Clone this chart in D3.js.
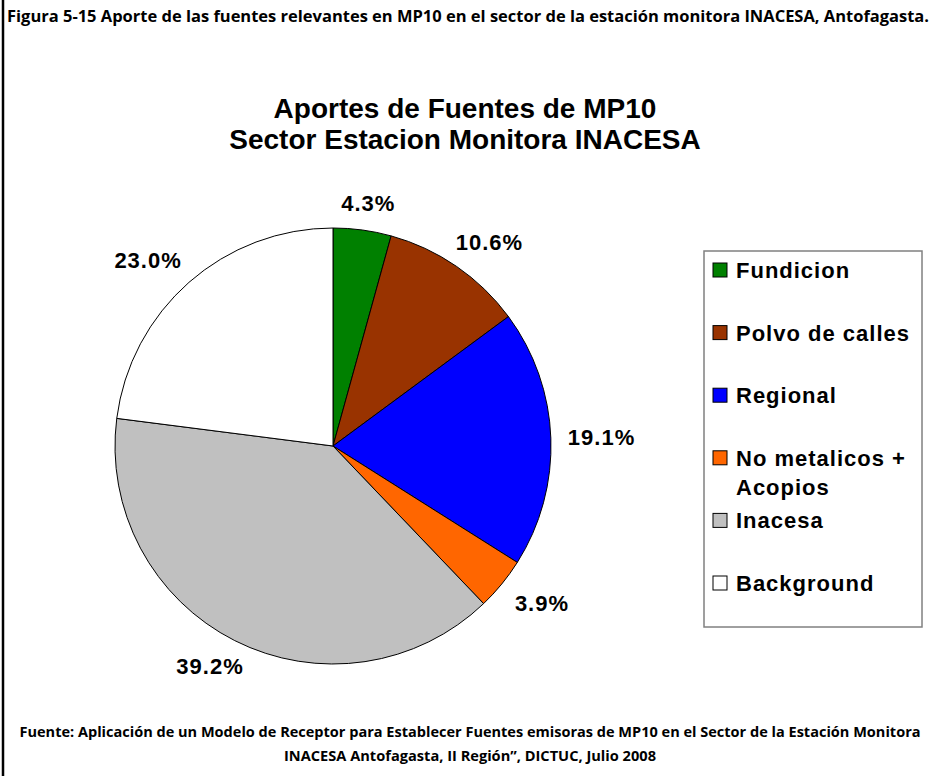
<!DOCTYPE html>
<html>
<head>
<meta charset="utf-8">
<script src="https://cdn.jsdelivr.net/npm/d3@7"></script>
<style>
  body { margin: 0; background: #fff; }
  svg { display: block; }
</style>
</head>
<body>
<div id="main"></div>
<script>
const WIDTH = 938, HEIGHT = 776;

// data
const categories = ["Fundicion", "Polvo de calles", "Regional", "No metalicos + Acopios", "Inacesa", "Background"];
const legendLines = [["Fundicion"], ["Polvo de calles"], ["Regional"], ["No metalicos +", "Acopios"], ["Inacesa"], ["Background"]];
const shares = [4.3, 10.6, 19.1, 3.9, 39.2, 23.0];
const colors = ["#008000", "#993300", "#0000ff", "#ff6600", "#c0c0c0", "#ffffff"];

const headerText = "Figura 5-15 Aporte de las fuentes relevantes en MP10 en el sector de la estación monitora INACESA, Antofagasta.";
const titleLines = ["Aportes de Fuentes de MP10", "Sector Estacion Monitora INACESA"];
const footerLines = [
    "Fuente: Aplicación de un Modelo de Receptor para Establecer Fuentes emisoras de MP10 en el Sector de la Estación Monitora",
    "INACESA Antofagasta, II Región\u201d, DICTUC, Julio 2008"
];

const svg = d3.select("#main").append("svg")
    .attr("width", WIDTH)
    .attr("height", HEIGHT);

// left frame line
svg.append("line")
    .attr("x1", 3).attr("x2", 3)
    .attr("y1", 0).attr("y2", HEIGHT)
    .attr("stroke", "#000").attr("stroke-width", 2.5);

const calibri = "'Open Sans', 'DejaVu Sans', sans-serif";
const arial = "'Liberation Sans', Arial, sans-serif";

svg.append("text")
    .attr("x", 7).attr("y", 22)
    .attr("textLength", 922).attr("lengthAdjust", "spacingAndGlyphs")
    .style("font-family", calibri).style("font-weight", "bold").style("font-size", "16px")
    .text(headerText);

// chart title
svg.selectAll("text.title")
    .data(titleLines)
    .enter().append("text")
    .attr("class", "title")
    .attr("x", 465)
    .attr("y", (d, i) => 118 + i * 31)
    .attr("text-anchor", "middle")
    .style("font-family", arial).style("font-weight", "bold").style("font-size", "28px")
    .text(d => d);

// pie
const cx = 333, cy = 446, R = 218;
const pie = d3.pie().sort(null).value(d => d);
const arcs = pie(shares);
const arc = d3.arc().innerRadius(0).outerRadius(R);

const pieG = svg.append("g").attr("transform", `translate(${cx},${cy})`);
pieG.selectAll("path")
    .data(arcs)
    .enter().append("path")
    .attr("d", arc)
    .attr("fill", (d, i) => colors[i])
    .attr("stroke", "#000")
    .attr("stroke-width", 1);

// labels outside the slices: anchor just off the rim, box pushed
// outwards so its nearest side/corner sits on the anchor (Excel style)
const labelFont = 22;
pieG.selectAll("text.pct")
    .data(arcs)
    .enter().append("text")
    .attr("class", "pct")
    .attr("text-anchor", "middle")
    .attr("dy", "0.36em")
    .style("font-family", arial).style("font-weight", "bold")
    .style("font-size", labelFont + "px").style("letter-spacing", "1px")
    .text(d => d.value.toFixed(1) + "%")
    .each(function(d) {
        const a = (d.startAngle + d.endAngle) / 2;
        const w = this.getComputedTextLength() / 2, h = 10;
        const s = Math.sin(a), c = Math.cos(a);
        const m = Math.max(Math.abs(s), Math.abs(c));
        const r0 = R + 17;
        d3.select(this)
            .attr("x", s * r0 + w * s / m)
            .attr("y", -c * r0 - h * c / m);
    });

// legend
const legend = svg.append("g").attr("transform", "translate(704,251)");
legend.append("rect")
    .attr("width", 218).attr("height", 376)
    .attr("fill", "#fff").attr("stroke", "#808080").attr("stroke-width", 1.5);

const rowY = d3.scalePoint().domain(categories).range([19, 332]);
const rows = legend.selectAll("g.row")
    .data(categories)
    .enter().append("g")
    .attr("class", "row")
    .attr("transform", d => `translate(0,${rowY(d)})`);

rows.append("rect")
    .attr("x", 9).attr("y", -7)
    .attr("width", 14).attr("height", 14)
    .attr("fill", (d, i) => colors[i])
    .attr("stroke", "#000").attr("stroke-width", 1);

rows.append("text")
    .attr("x", 32)
    .attr("y", 8)
    .style("font-family", arial).style("font-weight", "bold")
    .style("font-size", "22px").style("letter-spacing", "1px")
    .selectAll("tspan")
    .data((d, i) => legendLines[i])
    .enter().append("tspan")
    .attr("x", 32)
    .attr("dy", (d, i) => i === 0 ? 0 : 29)
    .text(d => d);

// footer
svg.selectAll("text.foot")
    .data(footerLines)
    .enter().append("text")
    .attr("class", "foot")
    .attr("x", 470)
    .attr("y", (d, i) => 737 + i * 24)
    .attr("text-anchor", "middle")
    .attr("textLength", (d, i) => i === 0 ? 901 : 372)
    .attr("lengthAdjust", "spacingAndGlyphs")
    .style("font-family", calibri).style("font-weight", "bold").style("font-size", "14.5px")
    .text(d => d);
</script>
</body>
</html>
